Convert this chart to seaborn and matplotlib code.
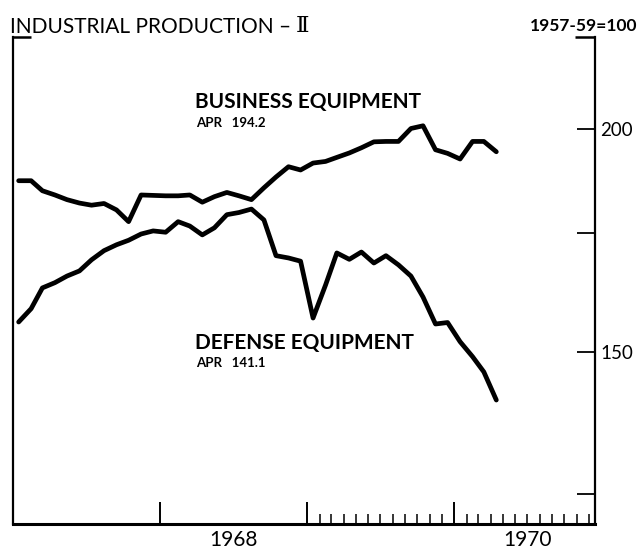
import numpy as np
import pandas as pd
import matplotlib
matplotlib.use("Agg")
import matplotlib.pyplot as plt
import matplotlib.dates as mdates
from matplotlib.ticker import FixedLocator, NullLocator, FixedFormatter
import seaborn as sns

# ---- data (index, 1957-59=100), monthly Jan 1967 - Apr 1970 ----
months = pd.date_range("1967-01-01", "1970-04-01", freq="MS")
business_equipment = [187.1, 187.1, 184.7, 183.7, 182.6, 181.8, 181.3, 181.7, 180.2, 177.5,
                      183.7, 183.6, 183.5, 183.5, 183.7, 182.0, 183.3, 184.3, 183.5, 182.6,
                      185.4, 188.0, 190.5, 189.7, 191.4, 191.8, 192.8, 193.9, 195.2, 196.7,
                      196.8, 196.8, 200.1, 200.8, 194.7, 193.8, 192.4, 196.8, 196.8, 194.2]
defense_equipment = [156.0, 158.7, 163.0, 164.1, 165.5, 166.6, 169.0, 171.0, 172.3, 173.3,
                     174.7, 175.4, 175.1, 177.5, 176.5, 174.5, 176.1, 179.1, 179.6, 180.4,
                     177.9, 169.9, 169.4, 168.7, 156.8, 163.6, 170.5, 169.1, 170.7, 168.3,
                     169.9, 167.9, 165.5, 161.1, 155.6, 155.9, 152.1, 149.2, 146.3, 141.1]
y_ticks = [125, 150, 175, 200]
y_tick_labels = ["", "150", "", "200"]
year_labels = ["1968", "1970"]

df = pd.DataFrame({
    "date": list(months + pd.Timedelta(days=14)) * 2,
    "value": business_equipment + defense_equipment,
    "series": ["Business"] * len(months) + ["Defense"] * len(months),
})

sns.set_theme(style="white")
plt.rcParams["font.family"] = ["Lato", "DejaVu Sans"]

fig = plt.figure(figsize=(6.39, 5.5), dpi=100)
ax = fig.add_axes([13 / 639, 1 - 524 / 550, (595 - 13) / 639, (524 - 37) / 550])

sns.lineplot(data=df, x="date", y="value", hue="series",
             palette={"Business": "black", "Defense": "black"},
             linewidth=3.4, legend=False, ax=ax, estimator=None)
for ln in ax.lines:
    ln.set_solid_joinstyle("round")
    ln.set_solid_capstyle("round")

ax.set_yscale("log")
ax.set_ylim(120.3, 225.1)
ax.set_xlim(pd.Timestamp("1967-01-01"), pd.Timestamp("1970-12-16"))
ax.set_xlabel("")
ax.set_ylabel("")

# y axis on the right
ax.yaxis.tick_right()
ax.yaxis.set_major_locator(FixedLocator(y_ticks))
ax.yaxis.set_major_formatter(FixedFormatter(y_tick_labels))
ax.yaxis.set_minor_locator(NullLocator())
ax.tick_params(axis="y", which="major", direction="in", length=13, width=1.3,
               labelsize=13.5, pad=4, right=True, left=False, labelcolor="black", color="black")

# x axis: year ticks and monthly ticks for 1969-1970
year_ticks = [pd.Timestamp(f"{y}-01-01") for y in (1968, 1969, 1970)]
ax.xaxis.set_major_locator(FixedLocator(mdates.date2num(year_ticks)))
ax.xaxis.set_major_formatter(FixedFormatter(["", "", ""]))
month_ticks = [d for d in pd.date_range("1969-02-01", "1970-12-01", freq="MS") if d.month != 1]
ax.xaxis.set_minor_locator(FixedLocator(mdates.date2num(month_ticks)))
ax.tick_params(axis="x", which="major", direction="in", length=16, width=1.4, color="black", bottom=True)
ax.tick_params(axis="x", which="minor", direction="in", length=7.5, width=1.1, color="black", bottom=True)

for lbl, yr in zip(year_labels, (1968, 1970)):
    ax.text(mdates.date2num(pd.Timestamp(f"{yr}-07-01")), -0.013, lbl,
            transform=ax.get_xaxis_transform(), ha="center", va="top",
            fontsize=15, color="black")

for side in ("left", "right", "bottom"):
    ax.spines[side].set_visible(True)
    ax.spines[side].set_color("black")
    ax.spines[side].set_linewidth(1.6)
ax.spines["bottom"].set_linewidth(2.2)
ax.spines["top"].set_visible(False)

# top brackets
ax.plot([0, 0.031], [1, 1], transform=ax.transAxes, color="black", lw=1.8, clip_on=False,
        solid_capstyle="butt")
ax.plot([0.966, 1.0], [1, 1], transform=ax.transAxes, color="black", lw=1.8, clip_on=False,
        solid_capstyle="butt")

# titles
t1 = fig.text(10 / 639, 1 - 33 / 550, "INDUSTRIAL PRODUCTION –", fontsize=15,
              fontweight="normal", color="black", ha="left", va="baseline")
fig.canvas.draw()
ax.annotate("Ⅱ", xy=(1, 0), xycoords=t1, xytext=(3, 0), textcoords="offset points",
            fontsize=16.5, family="DejaVu Serif", color="black", ha="left", va="bottom",
            annotation_clip=False)
fig.text(637 / 639, 1 - 31 / 550, "1957-59=100", fontsize=12.5, fontweight="bold",
         color="black", ha="right", va="baseline")

# series labels
fig.text(195 / 639, 1 - 108 / 550, "BUSINESS EQUIPMENT", fontsize=15,
         fontweight="bold", color="black", ha="left", va="baseline")
fig.text(196 / 639, 1 - 127 / 550, "APR   194.2", fontsize=9.5, fontweight="bold",
         color="black", ha="left", va="baseline")
fig.text(195 / 639, 1 - 349 / 550, "DEFENSE EQUIPMENT", fontsize=15,
         fontweight="bold", color="black", ha="left", va="baseline")
fig.text(196 / 639, 1 - 367 / 550, "APR   141.1", fontsize=9.5, fontweight="bold",
         color="black", ha="left", va="baseline")

fig.savefig("out.png", dpi=100)
